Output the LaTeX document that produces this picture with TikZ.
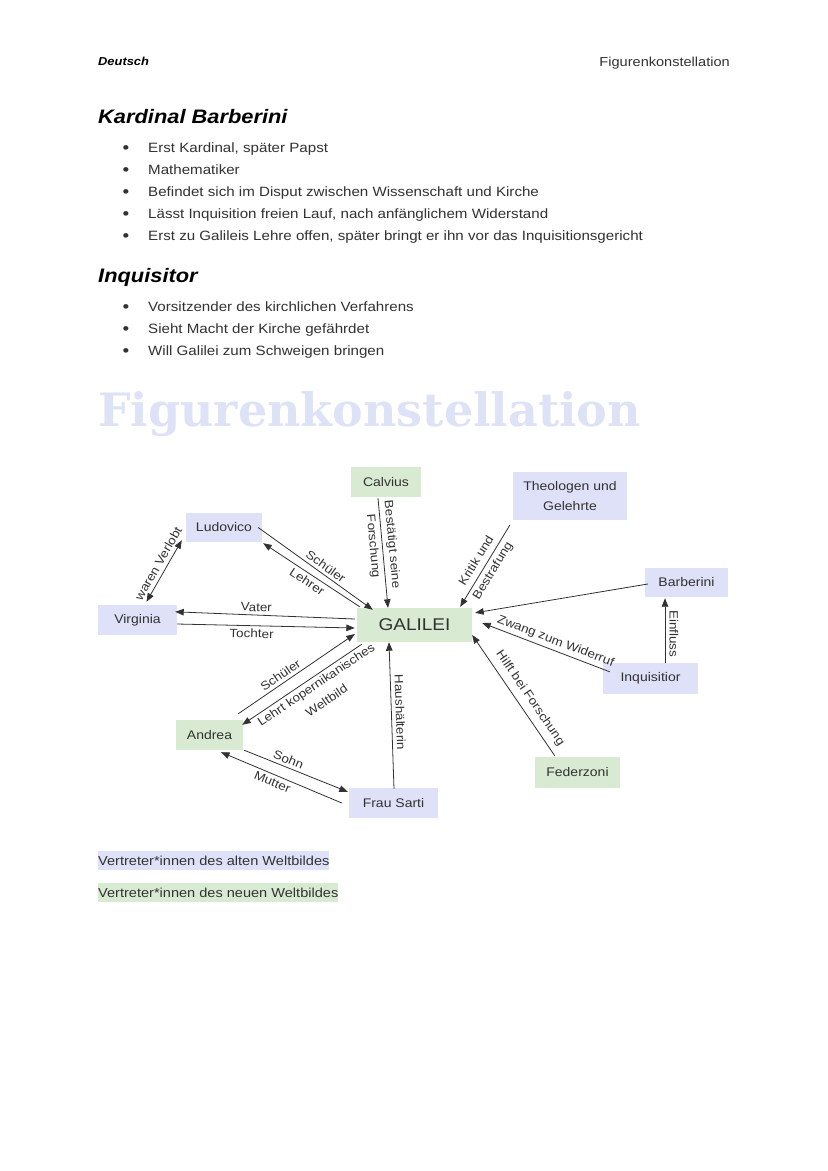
\documentclass[tikz,border=0pt]{standalone}
\usepackage{fontspec}
\setmainfont{Liberation Sans}[FakeStretch=1.12]
\newfontfamily\titlefont{DejaVu Serif}
\usetikzlibrary{arrows.meta}
\definecolor{alt}{RGB}{222,225,247}
\definecolor{neu}{RGB}{217,234,211}
\definecolor{ink}{RGB}{50,50,50}
\definecolor{titlec}{RGB}{222,226,247}
\begin{document}
\begin{tikzpicture}[x=1pt,y=-1pt,
  box/.style={draw=none, inner sep=0pt, text=ink, font=\fontsize{12.5}{20}\selectfont, align=center},
  altbox/.style={box, fill=alt},
  neubox/.style={box, fill=neu},
  arr/.style={draw=ink, line width=0.8pt, -{Triangle[length=8.5pt,width=6.5pt]}},
  dblarr/.style={draw=ink, line width=0.8pt, {Triangle[length=8.5pt,width=6.5pt]}-{Triangle[length=8.5pt,width=6.5pt]}},
  lbl/.style={text=ink, font=\fontsize{12}{19}\selectfont, inner sep=3pt, align=center},
  body/.style={text=ink, font=\fontsize{13.5}{15}\selectfont, anchor=base west, inner sep=0pt},
  bul/.style={text=ink, font=\fontsize{17}{18}\selectfont, anchor=base, inner sep=0pt},
  head/.style={text=black, font=\fontsize{19.5}{21}\selectfont\bfseries\itshape, anchor=base west, inner sep=0pt}
]
\useasboundingbox[fill=white] (0,0) rectangle (828,1171);

% header
\node[text=black, font=\fontsize{11.5}{12}\selectfont\bfseries\itshape, anchor=base west, inner sep=0pt] (hd) at (98,65) {Deutsch};
\node[text=ink, font=\fontsize{13}{14}\selectfont, anchor=base east, inner sep=0pt] (hf) at (730,66) {Figurenkonstellation};

% Kardinal Barberini
\node[head] (h1) at (98,123) {Kardinal Barberini};
\node[bul] (b1) at (126,153) {•}; \node[body] (t1) at (148,152) {Erst Kardinal, später Papst};
\node[bul] (b2) at (126,175) {•}; \node[body] (t2) at (148,174) {Mathematiker};
\node[bul] (b3) at (126,197) {•}; \node[body] (t3) at (148,196) {Befindet sich im Disput zwischen Wissenschaft und Kirche};
\node[bul] (b4) at (126,219) {•}; \node[body] (t4) at (148,218) {Lässt Inquisition freien Lauf, nach anfänglichem Widerstand};
\node[bul] (b5) at (126,241) {•}; \node[body] (t5) at (148,240) {Erst zu Galileis Lehre offen, später bringt er ihn vor das Inquisitionsgericht};

% Inquisitor
\node[head] (h2) at (98,282) {Inquisitor};
\node[bul] (b6) at (126,312) {•}; \node[body] (t6) at (148,311) {Vorsitzender des kirchlichen Verfahrens};
\node[bul] (b7) at (126,334) {•}; \node[body] (t7) at (148,333) {Sieht Macht der Kirche gefährdet};
\node[bul] (b8) at (126,356) {•}; \node[body] (t8) at (148,355) {Will Galilei zum Schweigen bringen};

% title
\node[text=titlec, font=\fontsize{46}{50}\selectfont\titlefont\bfseries, anchor=base west, inner sep=0pt] (title) at (98,426) {Figurenkonstellation};

% diagram nodes
\node[neubox, minimum width=70pt, minimum height=30pt] (calvius) at (386,482) {Calvius};
\node[altbox, minimum width=114pt, minimum height=48pt] (theologen) at (570,496) {Theologen und\\Gelehrte};
\node[altbox, minimum width=83pt, minimum height=29pt] (barberini) at (686.5,582.5) {Barberini};
\node[neubox, minimum width=115pt, minimum height=34pt, font=\fontsize{17}{18}\selectfont] (galilei) at (414.5,625) {GALILEI};
\node[altbox, minimum width=76pt, minimum height=29pt] (ludovico) at (224,527.5) {Ludovico};
\node[altbox, minimum width=79pt, minimum height=30pt] (virginia) at (137.5,620) {Virginia};
\node[neubox, minimum width=67pt, minimum height=30pt] (andrea) at (209.5,735) {Andrea};
\node[altbox, minimum width=89pt, minimum height=30pt] (sarti) at (393.5,803) {Frau Sarti};
\node[neubox, minimum width=85pt, minimum height=31pt] (federzoni) at (577.5,772.5) {Federzoni};
\node[altbox, minimum width=95pt, minimum height=31pt] (inquisitior) at (650.5,678.5) {Inquisitior};

% connectors
\draw[dblarr] ([shift={(9,-3)}]virginia.north) -- node[lbl, sloped, above, inner sep=4pt, pos=.55] {waren Verlobt} ([shift={(-4,-2)}]ludovico.south west);
\draw[arr] ([shift={(-4,0)}]ludovico.east) -- node[lbl, sloped, above, pos=.55] {Schüler} ([shift={(16,2)}]galilei.north west);
\draw[arr] ([shift={(3,-1)}]galilei.north west) -- node[lbl, sloped, below, pos=.5] {Lehrer} ([shift={(1,1)}]ludovico.south east);
\draw[arr] ([shift={(-2,-6)}]galilei.west) -- node[lbl, above, sloped, pos=.55] {Vater} ([shift={(-2,7)}]virginia.north east);
\draw[arr] ([shift={(0,4)}]virginia.east) -- node[lbl, below, sloped, pos=.42] {Tochter} ([shift={(-2,3)}]galilei.west);
\draw[arr] ([shift={(-5,-6)}]andrea.north east) -- node[lbl, above, sloped, pos=.4] {Schüler} ([shift={(-2,9)}]galilei.west);
\draw[arr] ([shift={(5,2)}]galilei.south west) -- node[lbl, below, sloped, pos=.42] {Lehrt kopernikanisches\\Weltbild} ([shift={(-1,5)}]andrea.north east);
\draw[arr] ([shift={(1,0)}]andrea.south east) -- node[lbl, above, sloped, pos=.4] {Sohn} ([shift={(-1,4)}]sarti.north west);
\draw[arr] ([shift={(-7,0)}]sarti.west) -- node[lbl, below, sloped, pos=.55] {Mutter} ([shift={(11.5,2)}]andrea.south);
\draw[arr] ([shift={(0.5,1)}]sarti.north) -- node[lbl, above, sloped, pos=.52, inner sep=4pt] {Haushälterin} ([shift={(-25.5,0)}]galilei.south);
\draw[arr] ([shift={(-8,1)}]calvius.south) -- node[lbl, sloped, pos=.43] {Bestätigt seine\\Forschung} ([shift={(-26.5,0)}]galilei.north);
\draw[arr] ([shift={(-3,5)}]theologen.south west) -- node[lbl, sloped, pos=.5] {Kritik und\\Bestrafung} ([shift={(-12,-1)}]galilei.north east);
\draw[arr] ([shift={(3,1.5)}]barberini.west) -- ([shift={(3,5)}]galilei.north east);
\draw[arr] ([shift={(14.5,0)}]inquisitior.north) -- node[lbl, rotate=-90, anchor=south, pos=.45, inner sep=4pt] {Einfluss} ([shift={(-21.5,1)}]barberini.south);
\draw[arr] ([shift={(7,9)}]inquisitior.north west) -- node[lbl, above, sloped, pos=.45] {Zwang zum Widerruf} ([shift={(10,-2)}]galilei.east);
\draw[arr] ([shift={(20,-1)}]federzoni.north west) -- node[lbl, above, sloped, pos=.42, inner sep=6pt] {Hilft bei Forschung} ([shift={(0,10)}]galilei.east);

% legend
\node[fill=alt, text=ink, font=\fontsize{13}{15}\selectfont, anchor=west, inner xsep=0pt, inner ysep=0pt, minimum height=19pt] (leg1) at (98,860.5) {Vertreter*innen des alten Weltbildes};
\node[fill=neu, text=ink, font=\fontsize{13}{15}\selectfont, anchor=west, inner xsep=0pt, inner ysep=0pt, minimum height=19pt] (leg2) at (98,892.5) {Vertreter*innen des neuen Weltbildes};
\end{tikzpicture}
\end{document}
